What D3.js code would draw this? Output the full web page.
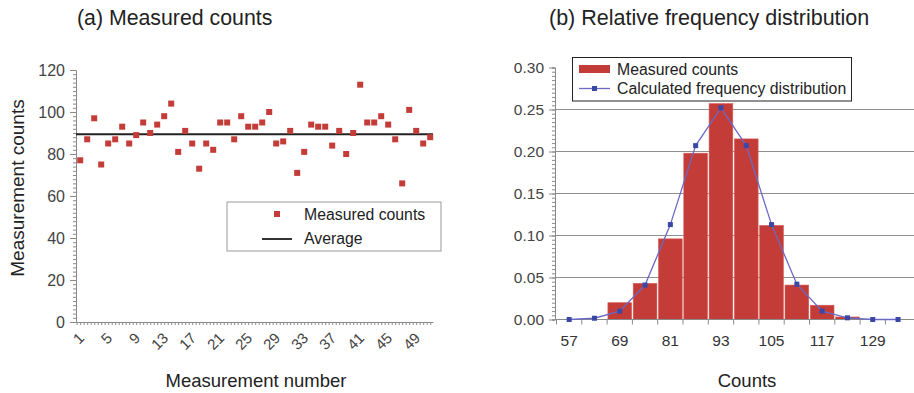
<!DOCTYPE html>
<html>
<head>
<meta charset="utf-8">
<script src="https://cdn.jsdelivr.net/npm/d3@7"></script>
<style>
body { margin: 0; background: #fff; }
svg { font-family: "Liberation Sans", Arial, sans-serif; }
</style>
</head>
<body>
<div id="chart"></div>
<script>
// left panel: counts for each measurement
var measured = [77, 87, 97, 75, 85, 87, 93, 85, 89, 95,
    90, 94, 98, 104, 81, 91, 85, 73, 85, 82,
    95, 95, 87, 98, 93, 93, 95, 100, 85, 86,
    91, 71, 81, 94, 93, 93, 84, 91, 80, 90,
    113, 95, 95, 98, 94, 87, 66, 101, 91, 85, 88];
var leftYTicks = [0, 20, 40, 60, 80, 100, 120];
var leftXLabels = [1, 5, 9, 13, 17, 21, 25, 29, 33, 37, 41, 45, 49];

// right panel: relative frequency
var countBins = [57, 63, 69, 75, 81, 87, 93, 99, 105, 111, 117, 123, 129, 135];
var measuredFreq = [0, 0, 0.020, 0.043, 0.096, 0.198, 0.257, 0.215, 0.112, 0.041, 0.017, 0.003, 0, 0];
var calcFreq = [0, 0.0015, 0.010, 0.041, 0.113, 0.207, 0.252, 0.207, 0.113, 0.042, 0.010, 0.002, 0, 0];
var rightYTicks = [0, 0.05, 0.10, 0.15, 0.20, 0.25, 0.30];
var rightXLabels = [57, 69, 81, 93, 105, 117, 129];

var W = 914, H = 393;
var red = "#c33c37", blue = "#3b47a6", axisGrey = "#8a8a8a", txt = "#222";

var svg = d3.select("#chart").append("svg")
    .attr("width", W)
    .attr("height", H);

// ---------- (a) Measured counts ----------
var x1 = d3.scaleLinear().domain([0.4, 51.4]).range([76, 433]);
var y1 = d3.scaleLinear().domain([0, 120]).range([322, 70]);

svg.append("text")
    .text("(a) Measured counts")
    .attr("x", 77).attr("y", 25)
    .attr("font-size", 21.3).style("fill", txt);

var gy1 = svg.append("g").attr("transform", "translate(76,0)");
gy1.call(d3.axisLeft(y1).tickValues(d3.range(0, 121, 2)).tickSize(3).tickFormat(""));
gy1.call(function(g){
    g.selectAll(".tick line").attr("stroke", axisGrey);
    g.select(".domain").attr("stroke", axisGrey);
});
var gy1b = svg.append("g").attr("transform", "translate(76,0)");
gy1b.call(d3.axisLeft(y1).tickValues(leftYTicks).tickSize(6).tickPadding(5));
gy1b.select(".domain").remove();
gy1b.selectAll(".tick line").attr("stroke", axisGrey);
gy1b.selectAll("text").attr("font-size", 16).style("fill", "#444").style("font-family", "Liberation Sans, Arial");

var gx1 = svg.append("g").attr("transform", "translate(0,322)");
gx1.call(d3.axisBottom(x1).tickValues(d3.range(0.5, 51.5, 0.5)).tickSize(3).tickSizeOuter(0).tickFormat(""));
gx1.selectAll(".tick line").attr("stroke", axisGrey);
gx1.select(".domain").attr("stroke", axisGrey);

svg.append("g").selectAll("text")
    .data(leftXLabels)
    .enter().append("text")
    .text(function(d){ return d; })
    .attr("text-anchor", "end")
    .attr("font-size", 15)
    .style("fill", "#444")
    .attr("transform", function(d){
        return "translate(" + (x1(d) + 5) + ",339) rotate(-45)";
    });

svg.append("line")
    .attr("x1", x1(0.4)).attr("x2", x1(51.4))
    .attr("y1", y1(d3.mean(measured))).attr("y2", y1(d3.mean(measured)))
    .attr("stroke", "#222").attr("stroke-width", 2);

svg.append("g").selectAll("rect")
    .data(measured)
    .enter().append("rect")
    .attr("x", function(d, i){ return x1(i + 1) - 3; })
    .attr("y", function(d){ return y1(d) - 3; })
    .attr("width", 6).attr("height", 6)
    .attr("fill", red);

svg.append("text")
    .text("Measurement counts")
    .attr("transform", "translate(24,188) rotate(-90)")
    .attr("text-anchor", "middle")
    .attr("font-size", 19).style("fill", txt);

svg.append("text")
    .text("Measurement number")
    .attr("x", 256).attr("y", 387)
    .attr("text-anchor", "middle")
    .attr("font-size", 18.5).style("fill", txt);

// legend (a)
var lg1 = svg.append("g");
lg1.append("rect")
    .attr("x", 227).attr("y", 202).attr("width", 214).attr("height", 49)
    .attr("fill", "#fff").attr("stroke", "#999");
lg1.append("rect").attr("x", 274).attr("y", 211).attr("width", 6).attr("height", 6).attr("fill", red);
lg1.append("text").text("Measured counts").attr("x", 304).attr("y", 220)
    .attr("font-size", 15.8).style("fill", txt);
lg1.append("line").attr("x1", 262).attr("x2", 292).attr("y1", 239).attr("y2", 239)
    .attr("stroke", "#333").attr("stroke-width", 2);
lg1.append("text").text("Average").attr("x", 304).attr("y", 244)
    .attr("font-size", 15.8).style("fill", txt);

// ---------- (b) Relative frequency distribution ----------
var x2 = d3.scaleBand().domain(countBins).range([556.5, 556.5 + 25.3 * countBins.length]).padding(0);
var y2 = d3.scaleLinear().domain([0, 0.30]).range([319.5, 67.5]);

svg.append("text")
    .text("(b) Relative frequency distribution")
    .attr("x", 549).attr("y", 25)
    .attr("font-size", 21.5).style("fill", txt);

svg.append("g").selectAll("line")
    .data(rightYTicks.filter(function(d){ return d > 0 && d < 0.3; }))
    .enter().append("line")
    .attr("x1", 555).attr("x2", W)
    .attr("y1", function(d){ return y2(d); })
    .attr("y2", function(d){ return y2(d); })
    .attr("stroke", "#8f8f8f").attr("stroke-width", 1);

svg.append("g").selectAll("rect")
    .data(measuredFreq)
    .enter().append("rect")
    .attr("x", function(d, i){ return x2(countBins[i]) + 0.8; })
    .attr("y", function(d){ return y2(d); })
    .attr("width", x2.bandwidth() - 1.6)
    .attr("height", function(d){ return y2(0) - y2(d); })
    .attr("fill", red)
    .attr("stroke", "#d85a55").attr("stroke-width", 0.6);

var gy2 = svg.append("g").attr("transform", "translate(555,0)");
gy2.call(d3.axisLeft(y2).tickValues(d3.range(0, 0.3001, 0.005)).tickSize(3).tickFormat(""));
gy2.selectAll(".tick line").attr("stroke", axisGrey);
gy2.select(".domain").attr("stroke", axisGrey);
var gy2b = svg.append("g").attr("transform", "translate(555,0)");
gy2b.call(d3.axisLeft(y2).tickValues(rightYTicks).tickSize(6).tickPadding(5).tickFormat(d3.format(".2f")));
gy2b.select(".domain").remove();
gy2b.selectAll(".tick line").attr("stroke", axisGrey);
gy2b.selectAll("text").attr("font-size", 15.5).style("fill", "#444").style("font-family", "Liberation Sans, Arial");

var gx2 = svg.append("g").attr("transform", "translate(0,319.5)");
gx2.call(d3.axisBottom(x2).tickSize(0).tickFormat(""));
gx2.select(".domain").attr("stroke", axisGrey).attr("d", "M555,0H" + W);
gx2.append("g").selectAll("line")
    .data(countBins)
    .enter().append("line")
    .attr("x1", function(d){ return x2(d); })
    .attr("x2", function(d){ return x2(d); })
    .attr("y1", 0).attr("y2", 5)
    .attr("stroke", axisGrey);
svg.append("g").selectAll("text")
    .data(rightXLabels)
    .enter().append("text")
    .text(function(d){ return d; })
    .attr("x", function(d){ return x2(d) + x2.bandwidth() / 2; })
    .attr("y", 346)
    .attr("text-anchor", "middle")
    .attr("font-size", 15.5)
    .style("fill", "#333");

var line = d3.line()
    .x(function(d, i){ return x2(countBins[i]) + x2.bandwidth() / 2; })
    .y(function(d){ return y2(d); });

svg.append("path")
    .datum(calcFreq)
    .attr("d", line)
    .attr("fill", "none")
    .attr("stroke", "#6a6ac4").attr("stroke-width", 1.3);

svg.append("g").selectAll("rect")
    .data(calcFreq)
    .enter().append("rect")
    .attr("x", function(d, i){ return x2(countBins[i]) + x2.bandwidth() / 2 - 2.5; })
    .attr("y", function(d){ return y2(d) - 2.5; })
    .attr("width", 5).attr("height", 5)
    .attr("fill", blue);

svg.append("text")
    .text("Counts")
    .attr("x", 747).attr("y", 387)
    .attr("text-anchor", "middle")
    .attr("font-size", 18.5).style("fill", txt);

// legend (b)
var lg2 = svg.append("g");
lg2.append("rect")
    .attr("x", 572.5).attr("y", 57.5).attr("width", 279).attr("height", 43.5)
    .attr("fill", "#fff").attr("stroke", "#222").attr("stroke-width", 1);
lg2.append("rect").attr("x", 579).attr("y", 65).attr("width", 31).attr("height", 8).attr("fill", red);
lg2.append("text").text("Measured counts").attr("x", 617).attr("y", 75)
    .attr("font-size", 15.8).style("fill", txt);
lg2.append("line").attr("x1", 579).attr("x2", 610).attr("y1", 88.5).attr("y2", 88.5)
    .attr("stroke", "#6a6ac4").attr("stroke-width", 1.3);
lg2.append("rect").attr("x", 592).attr("y", 86).attr("width", 5).attr("height", 5).attr("fill", blue);
lg2.append("text").text("Calculated frequency distribution").attr("x", 617).attr("y", 94)
    .attr("font-size", 15.8).style("fill", txt);
</script>
</body>
</html>
